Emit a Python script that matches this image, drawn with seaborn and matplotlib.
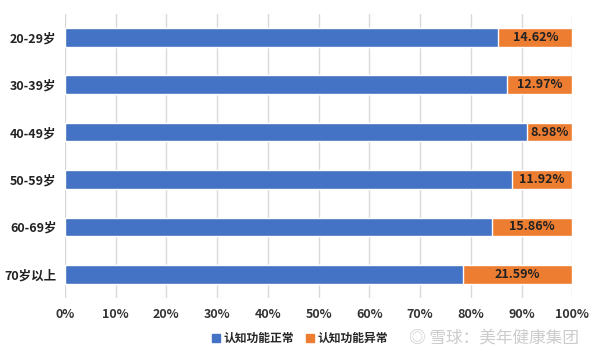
import matplotlib
matplotlib.use("Agg")
import matplotlib.pyplot as plt
import seaborn as sns
import pandas as pd
from matplotlib.patches import Patch

categories = ["20-29岁", "30-39岁", "40-49岁", "50-59岁", "60-69岁", "70岁以上"]
normal = [85.38, 87.03, 91.02, 88.08, 84.14, 78.41]
abnormal = [14.62, 12.97, 8.98, 11.92, 15.86, 21.59]
total = [100, 100, 100, 100, 100, 100]
series_names = ["认知功能正常", "认知功能异常"]
xticks = [0, 10, 20, 30, 40, 50, 60, 70, 80, 90, 100]

sns.set_theme(style="white")
plt.rcParams['font.family'] = ['Noto Sans CJK SC', 'DejaVu Sans']

blue = "#4472C4"
orange = "#ED7D31"

df = pd.DataFrame({"cat": categories, "normal": normal, "abnormal": abnormal, "total": total})

fig = plt.figure(figsize=(6.0, 3.57), dpi=100)
ax = fig.add_axes([0.108, 0.165, 0.846, 0.797])

sns.barplot(data=df, x="total", y="cat", orient="h", color=orange, width=0.39,
            saturation=1, ax=ax, zorder=3)
sns.barplot(data=df, x="normal", y="cat", orient="h", color=blue, width=0.39,
            saturation=1, ax=ax, zorder=3)

for i, (n, a) in enumerate(zip(normal, abnormal)):
    ax.text(n + a / 2, i, f"{a:.2f}%", ha="center", va="center", fontsize=9,
            fontweight="bold", color="#222222", zorder=4)

ax.set_xlim(0, 100)
ax.set_ylim(5.5, -0.5)
ax.set_xticks(xticks)
ax.set_xticklabels([f"{t}%" for t in xticks], fontsize=9, fontweight="bold", color="#333333")
ax.tick_params(axis="y", labelsize=9, length=0, pad=6)
ax.tick_params(axis="x", length=0, pad=7)
for lbl in ax.get_yticklabels():
    lbl.set_fontweight("bold")
    lbl.set_color("#222222")
ax.set_xlabel("")
ax.set_ylabel("")
ax.grid(axis="x", color="#D9D9D9", linewidth=1, zorder=0)
for s in ax.spines.values():
    s.set_visible(False)

handles = [Patch(color=blue), Patch(color=orange)]
fig.legend(handles, series_names, loc="center", bbox_to_anchor=(0.5, 0.052), ncol=2,
           frameon=False, prop={"weight": "bold", "size": 8.5},
           handlelength=0.7, handleheight=0.7, handletextpad=0.3, columnspacing=1.0)

fig.text(0.965, 0.052, "◎ 雪球：美年健康集团", ha="right", va="center", fontsize=12,
         color="#CCCCCC")

fig.savefig("out.png", dpi=100)
